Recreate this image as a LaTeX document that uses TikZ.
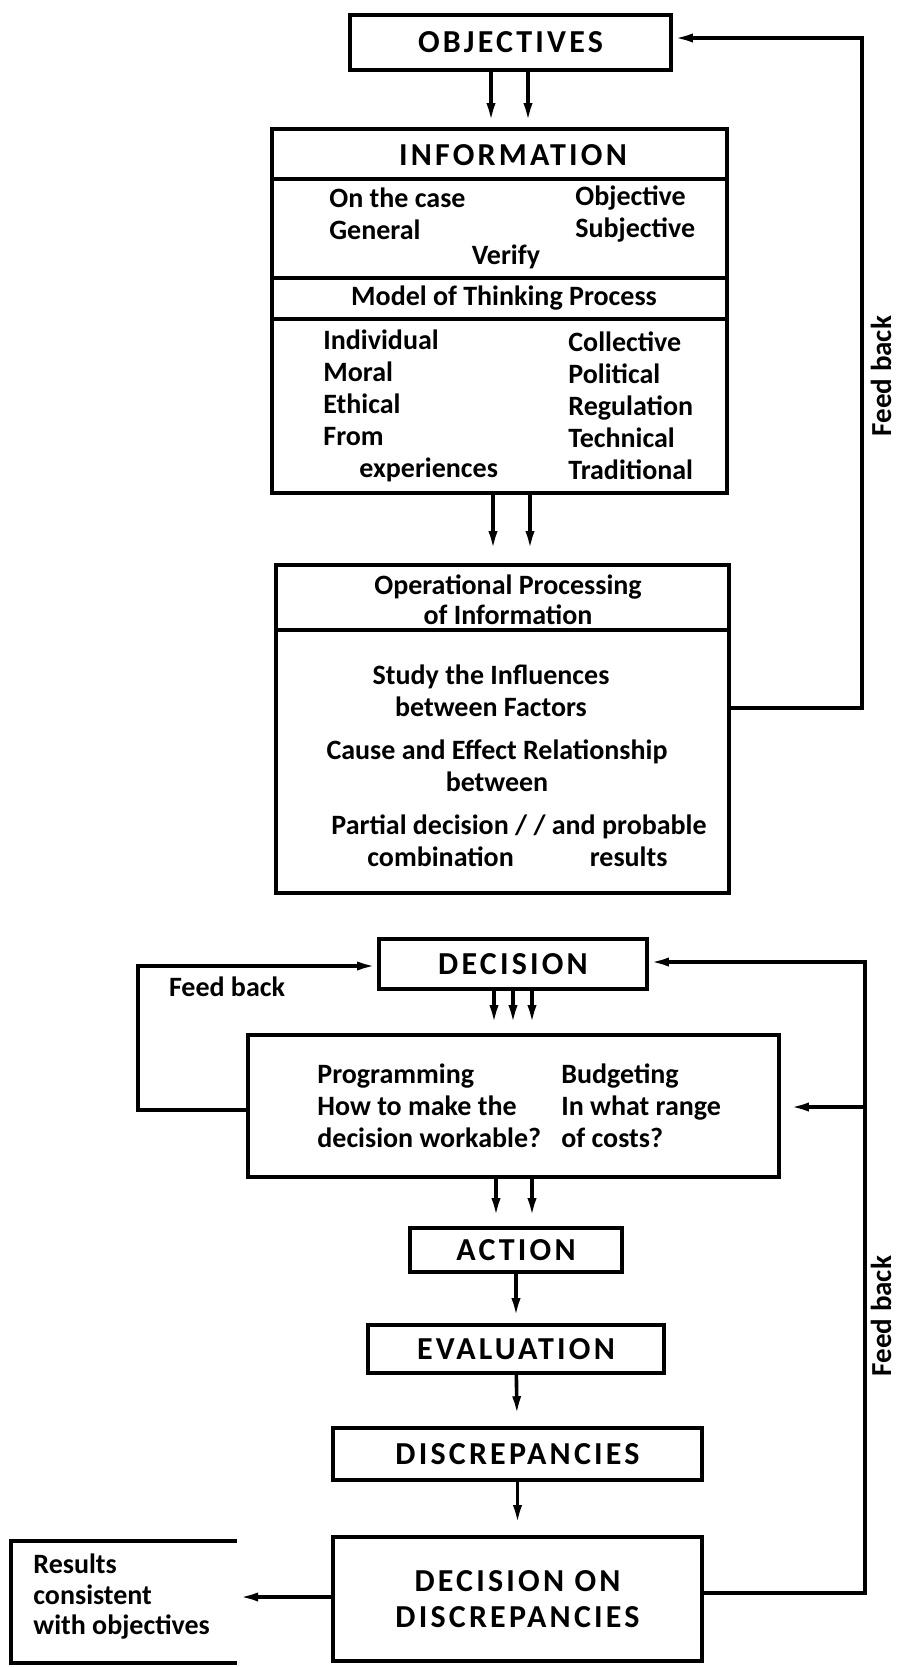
\documentclass[tikz,border=0pt]{standalone}
\usepackage{fontspec}
\setmainfont{Carlito}
\newfontfamily\capsfont{Carlito}[LetterSpace=10]
\usetikzlibrary{arrows.meta}

\tikzset{
  box/.style={draw, line width=1.8pt, inner sep=0pt},
  heading/.style={font=\capsfont\bfseries\fontsize{16}{18}\selectfont},
  body/.style={font=\bfseries\fontsize{14}{16}\selectfont, align=left, inner sep=0pt},
  arrow/.style={-{Latex[length=10pt,width=4.5pt]}, line width=1.8pt}}

\begin{document}
\begin{tikzpicture}[x=0.5pt, y=-0.5pt]
    \useasboundingbox (0,0) rectangle (898,1667);
    % upper half
    \node[box, heading, minimum width=160.5pt, minimum height=27.5pt] (obj) at (510.5,42.5) {OBJECTIVES};
    \node[box, minimum width=227.5pt, minimum height=182pt] (info) at (499.5,311) {};
    \draw[line width=1.8pt] (info.west |- 0,179) -- (info.east |- 0,179);
    \draw[line width=1.8pt] (info.west |- 0,278) -- (info.east |- 0,278);
    \draw[line width=1.8pt] (info.west |- 0,319) -- (info.east |- 0,319);
    \node[heading] (infotitle) at (513,155) {INFORMATION};
    \node[body, anchor=west] (case) at (329,214) {On the case\\General};
    \node[body, anchor=west] (objsub) at (575,214) {Objective\\Subjective};
    \node[body] (verify) at (506,257) {Verify};
    \node[body] (model) at (504,298) {Model of Thinking Process};
    \node[body, anchor=west] (indiv) at (323,406) {Individual\\Moral\\Ethical\\From\\\hspace{18pt}experiences};
    \node[body, anchor=west] (coll) at (568,406) {Collective\\Political\\Regulation\\Technical\\Traditional};
    \draw[arrow, shorten >=2pt] (491,0 |- obj.south) -- (491,0 |- info.north);
    \draw[arrow, shorten >=2pt] (528,0 |- obj.south) -- (528,0 |- info.north);

    \node[box, minimum width=226.5pt, minimum height=164pt] (oper) at (502.5,729) {};
    \draw[line width=1.8pt] (oper.west |- 0,630) -- (oper.east |- 0,630);
    \node[body, align=center, font=\bfseries\fontsize{14}{15}\selectfont] (opertitle) at (508,600) {Operational Processing\\of Information};
    \node[body, align=center, font=\bfseries\fontsize{14}{16}\selectfont] (study) at (491,691) {Study the Influences\\between Factors};
    \node[body, align=center, font=\bfseries\fontsize{14}{16}\selectfont] (cause) at (497,766) {Cause and Effect Relationship\\between\hspace{12pt}};
    \node[body, anchor=west, font=\bfseries\fontsize{14}{16}\selectfont] (partial) at (331,841) {Partial decision / / and probable\\\hspace{18pt}combination\hspace{38pt}results};
    \draw[arrow, shorten >=6pt] (493,0 |- info.south) -- (493,0 |- oper.north);
    \draw[arrow, shorten >=6pt] (530,0 |- info.south) -- (530,0 |- oper.north);

    \draw[arrow] (oper.east |- 0,708) -- (862,708) -- (862,38) -- (obj.east |- 0,38);
    \node[body, rotate=90, font=\bfseries\fontsize{14.5}{16}\selectfont] (fbtop) at (881,376) {Feed back};

    % lower half
    \node[box, heading, minimum width=134pt, minimum height=25pt] (dec) at (513,964) {DECISION};
    \node[box, minimum width=265.5pt, minimum height=71pt] (prog) at (513.5,1106) {};
    \node[body, anchor=west] (progtxt) at (317,1106) {Programming\\How to make the\\decision workable?};
    \node[body, anchor=west] (budget) at (561,1106) {Budgeting\\In what range\\of costs?};
    \draw[arrow, shorten >=4pt] (494,0 |- dec.south) -- (494,0 |- prog.north);
    \draw[arrow, shorten >=4pt] (513,0 |- dec.south) -- (513,0 |- prog.north);
    \draw[arrow, shorten >=4pt] (532,0 |- dec.south) -- (532,0 |- prog.north);
    \draw[arrow] (prog.west |- 0,1110) -- (138,1110) -- (138,966) -- (dec.west |- 0,966);
    \node[body] (fbleft) at (227,987) {Feed back};

    \node[box, heading, minimum width=106pt, minimum height=22pt] (act) at (516,1250) {ACTION};
    \node[box, heading, minimum width=148pt, minimum height=24pt] (eval) at (516,1349) {EVALUATION};
    \node[box, heading, minimum width=184.5pt, minimum height=26pt] (disc) at (517.5,1454) {DISCREPANCIES};
    \node[box, heading, minimum width=184.5pt, minimum height=62pt, align=center] (dod) at (517.5,1599) {DECISION ON\\DISCREPANCIES};
    \draw[arrow, shorten >=4pt] (496,0 |- prog.south) -- (496,0 |- act.north);
    \draw[arrow, shorten >=4pt] (532,0 |- prog.south) -- (532,0 |- act.north);
    \draw[arrow, shorten >=2.5pt] (act) -- (eval);
    \draw[arrow, shorten >=5pt] (eval) -- (disc);
    \draw[arrow, shorten >=5pt] (disc) -- (dod);

    \draw[arrow] (dod.east |- 0,1593) -- (865,1593) -- (865,962) -- (dec.east |- 0,962);
    \draw[arrow, shorten >=4pt] (865,1107) -- (prog.east |- 0,1107);
    \node[body, rotate=90, font=\bfseries\fontsize{14.5}{16}\selectfont] (fbright) at (881,1316) {Feed back};

    \draw[line width=1.8pt] (237,1541) -- (11,1541) -- (11,1663) -- (237,1663);
    \node[body, anchor=west, font=\bfseries\fontsize{14}{15.25}\selectfont] (results) at (33,1597) {Results\\consistent\\with objectives};
    \draw[arrow] (dod.west |- 0,1597) -- (238,1597);
\end{tikzpicture}
\end{document}
